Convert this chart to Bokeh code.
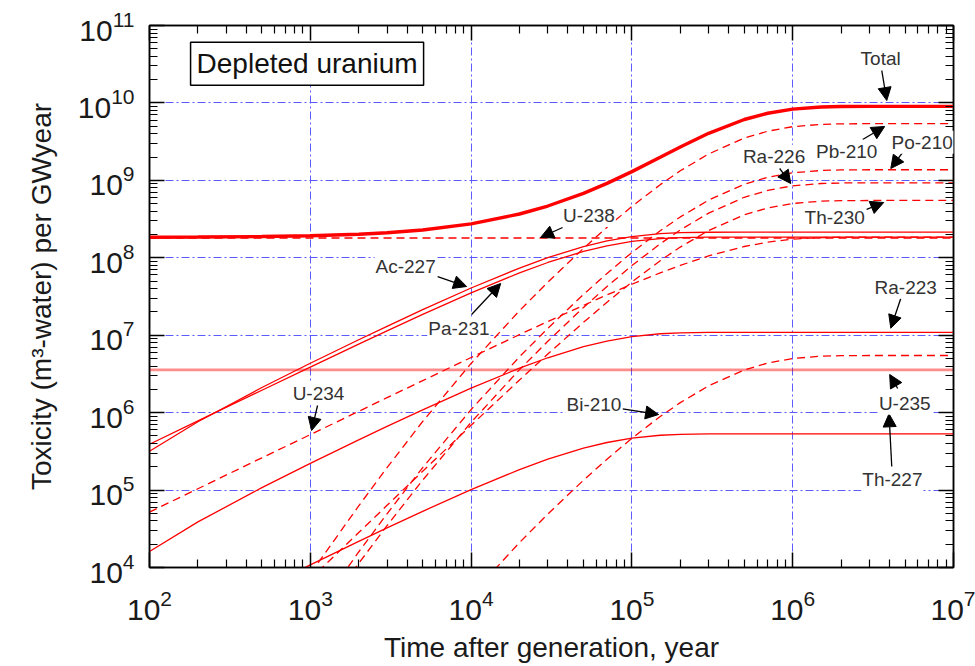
from bokeh.plotting import figure
from bokeh.models import (LogAxis, FixedTicker, Label, Arrow, NormalHead,
                          CustomJSTickFormatter, Range1d)
from bokeh.embed import file_html
from bokeh.resources import INLINE

FONT = "Liberation Sans"

# ---- data ----
years = [1e2, 2e2, 5e2, 1e3, 2e3, 3e3, 5e3, 1e4, 2e4, 3e4, 5e4, 7e4,
         1e5, 1.5e5, 2e5, 3e5, 5e5, 7e5, 1e6, 1.5e6, 2e6, 3e6, 5e6, 1e7]

total = [1.844e8, 1.853e8, 1.880e8, 1.926e8, 2.016e8, 2.106e8, 2.285e8, 2.737e8, 3.676e8, 4.662e8,
         6.794e8, 9.133e8, 1.296e9, 1.988e9, 2.702e9, 4.052e9, 6.106e9, 7.354e9, 8.312e9, 8.858e9,
         8.991e9, 9.032e9, 9.035e9, 9.035e9]
u238 = [1.8e8, 1.8e8, 1.8e8, 1.8e8, 1.8e8, 1.8e8, 1.8e8, 1.8e8, 1.8e8, 1.8e8, 1.8e8, 1.8e8,
        1.8e8, 1.8e8, 1.8e8, 1.8e8, 1.8e8, 1.8e8, 1.8e8, 1.8e8, 1.8e8, 1.8e8, 1.8e8, 1.8e8]
u234 = [5.2e4, 1.04e5, 2.61e5, 5.2e5, 1.04e6, 1.56e6, 2.59e6, 5.15e6, 1.02e7, 1.50e7,
        2.43e7, 3.317e7, 4.55e7, 6.387e7, 7.98e7, 1.057e8, 1.399e8, 1.594e8, 1.74e8, 1.823e8,
        1.843e8, 1.85e8, 1.85e8, 1.85e8]
th230 = [7.14e1, 2.85e2, 1.785e3, 7.11e3, 2.83e4, 6.35e4, 1.75e5, 6.86e5, 2.64e6, 5.71e6,
         1.467e7, 2.666e7, 4.87e7, 9.171e7, 1.375e8, 2.25e8, 3.59e8, 4.404e8, 5.03e8, 5.385e8,
         5.47e8, 5.498e8, 5.5e8, 5.5e8]
ra226 = [1.72, 13.65, 206.6, 1.564e3, 1.130e4, 3.467e4, 1.346e5, 7.50e5, 3.59e6, 8.36e6,
         2.282e7, 4.258e7, 7.93e7, 1.515e8, 2.289e8, 3.775e8, 6.05e8, 7.434e8, 8.50e8, 9.104e8,
         9.25e8, 9.297e8, 9.3e8, 9.3e8]
pb210 = [4.67, 51.4, 997.0, 8.27e3, 6.25e4, 1.949e5, 7.69e5, 4.32e6, 2.076e7, 4.84e7,
         1.324e8, 2.473e8, 4.61e8, 8.799e8, 1.329e9, 2.192e9, 3.513e9, 4.317e9, 4.934e9, 5.286e9,
         5.372e9, 5.398e9, 5.4e9, 5.4e9]
po210 = [1.18, 13.0, 253.0, 2.10e3, 1.586e4, 4.94e4, 1.951e5, 1.096e6, 5.27e6, 1.228e7,
         3.36e7, 6.273e7, 1.169e8, 2.232e8, 3.37e8, 5.56e8, 8.91e8, 1.095e9, 1.252e9, 1.341e9,
         1.363e9, 1.370e9, 1.37e9, 1.37e9]
bi210 = [4.7e-3, 5.2e-2, 1.01, 8.37, 63.3, 197.0, 779.0, 4.38e3, 2.103e4, 4.90e4,
         1.341e5, 2.505e5, 4.67e5, 8.91e5, 1.346e6, 2.22e6, 3.56e6, 4.373e6, 5.0e6, 5.355e6,
         5.44e6, 5.468e6, 5.47e6, 5.47e6]
pa231 = [3.91e5, 7.81e5, 1.947e6, 3.873e6, 7.665e6, 1.138e7, 1.857e7, 3.528e7, 6.384e7, 8.694e7,
         1.208e8, 1.429e8, 1.627e8, 1.773e8, 1.823e8, 1.847e8, 1.85e8, 1.85e8, 1.85e8, 1.85e8,
         1.85e8, 1.85e8, 1.85e8, 1.85e8]
ac227 = [3.167e5, 7.62e5, 2.111e6, 4.341e6, 8.731e6, 1.303e7, 2.136e7, 4.070e7, 7.375e7, 1.005e8,
         1.397e8, 1.653e8, 1.882e8, 2.050e8, 2.109e8, 2.136e8, 2.14e8, 2.14e8, 2.14e8, 2.14e8,
         2.14e8, 2.14e8, 2.14e8, 2.14e8]
ra223 = [1.612e4, 3.879e4, 1.075e5, 2.210e5, 4.444e5, 6.631e5, 1.087e6, 2.072e6, 3.754e6, 5.115e6,
         7.109e6, 8.414e6, 9.58e6, 1.044e7, 1.074e7, 1.087e7, 1.09e7, 1.09e7, 1.09e7, 1.09e7,
         1.09e7, 1.09e7, 1.09e7, 1.09e7]
th227 = [788.0, 1897.0, 5256.0, 1.081e4, 2.174e4, 3.244e4, 5.319e4, 1.013e5, 1.836e5, 2.502e5,
         3.478e5, 4.116e5, 4.686e5, 5.105e5, 5.251e5, 5.319e5, 5.33e5, 5.33e5, 5.33e5, 5.33e5,
         5.33e5, 5.33e5, 5.33e5, 5.33e5]
u235 = [3.57e6, 3.57e6, 3.57e6, 3.57e6, 3.57e6, 3.57e6, 3.57e6, 3.57e6, 3.57e6, 3.57e6, 3.57e6, 3.57e6,
        3.57e6, 3.57e6, 3.57e6, 3.57e6, 3.57e6, 3.57e6, 3.57e6, 3.57e6, 3.57e6, 3.57e6, 3.57e6, 3.57e6]

dashed_series = [u238, u234, th230, ra226, pb210, po210, bi210]
solid_series = [pa231, ac227, ra223, th227]

x_decades = [1e2, 1e3, 1e4, 1e5, 1e6, 1e7]
y_decades = [1e4, 1e5, 1e6, 1e7, 1e8, 1e9, 1e10, 1e11]

# annotation labels (log10 of year, log10 of toxicity)
label_text = ["Total", "Pb-210", "Po-210", "Ra-226", "Th-230", "U-238", "Ac-227",
              "Pa-231", "U-234", "Bi-210", "Ra-223", "U-235", "Th-227"]
label_lx = [6.547, 6.336, 6.805, 5.884, 6.261, 4.733, 3.593, 3.924, 3.051, 4.764, 6.703, 6.697, 6.620]
label_ly = [10.574, 9.377, 9.493, 9.312, 8.524, 8.546, 7.888, 7.083, 6.247, 6.101, 7.620, 6.122, 5.133]
arrow_lx0 = [6.554, 6.435, 6.684, 5.919, 6.460, 4.569, 3.792, 4.003, 3.045, 4.942, 6.672, 6.653, 6.616]
arrow_ly0 = [10.419, 9.528, 9.360, 9.153, 8.624, 8.391, 7.758, 7.268, 6.092, 6.050, 7.474, 6.312, 5.305]
arrow_lx1 = [6.585, 6.572, 6.610, 5.988, 6.566, 4.432, 3.972, 4.184, 3.008, 5.166, 6.610, 6.603, 6.599]
arrow_ly1 = [10.031, 9.696, 9.153, 8.959, 8.714, 8.262, 7.629, 7.668, 5.769, 5.976, 7.090, 6.493, 5.985]

box_text = "Depleted uranium"
box_lx, box_ly = 2.980, 10.505

# ---- figure ----
p = figure(width=975, height=666, x_axis_type="log", y_axis_type="log",
           x_range=Range1d(1e2, 1e7), y_range=Range1d(1e4, 1e11),
           output_backend="svg", toolbar_location=None,
           min_border_left=149, min_border_right=22, min_border_top=25, min_border_bottom=99)
p.background_fill_color = "white"
p.border_fill_color = "white"
p.outline_line_color = "black"
p.outline_line_width = 1.5

x_minor = [m * d for d in x_decades[:-1] for m in range(2, 10)]
y_minor = [m * d for d in y_decades[:-1] for m in range(2, 10)]
xt = FixedTicker(ticks=x_decades, minor_ticks=x_minor)
yt = FixedTicker(ticks=y_decades, minor_ticks=y_minor)


def style_axis(ax):
    ax.axis_line_color = "black"
    ax.axis_line_width = 1.5
    ax.major_tick_in = 15
    ax.major_tick_out = 0
    ax.minor_tick_in = 8
    ax.minor_tick_out = 0
    ax.major_tick_line_color = "black"
    ax.major_tick_line_width = 1.5
    ax.minor_tick_line_color = "black"
    ax.minor_tick_line_width = 1.2
    ax.major_label_text_font = FONT
    ax.major_label_text_font_size = "30px"
    ax.major_label_text_color = "#1a1a1a"
    ax.axis_label_text_font = FONT
    ax.axis_label_text_font_size = "28px"
    ax.axis_label_text_font_style = "normal"
    ax.axis_label_text_color = "#1a1a1a"


xa = p.below[0]
ya = p.left[0]
xa.ticker = xt
ya.ticker = yt
style_axis(xa)
style_axis(ya)
xa.axis_label = "Time after generation, year"
ya.axis_label = "Toxicity (m³-water) per GWyear"
xa.major_label_standoff = 22
ya.major_label_standoff = 15
xa.axis_label_standoff = 9
ya.axis_label_standoff = 18

blank = CustomJSTickFormatter(code="return ''")
top = LogAxis(ticker=xt, formatter=blank)
right = LogAxis(ticker=yt, formatter=blank)
style_axis(top)
style_axis(right)
top.major_label_text_font_size = "0px"
right.major_label_text_font_size = "0px"
p.add_layout(top, "above")
p.add_layout(right, "right")

p.xgrid.ticker = xt
p.ygrid.ticker = yt
for g in (p.xgrid, p.ygrid):
    g.grid_line_color = "#5c5cff"
    g.grid_line_dash = "8 3 2 3"
    g.grid_line_width = 1
    g.minor_grid_line_color = None

# ---- curves ----
p.line(years, u235, line_color="#ff0000", line_alpha=0.45, line_width=2.6)
for s in dashed_series:
    p.line(years, s, line_color="#ff0000", line_width=1.3, line_dash="8 5")
for s in solid_series:
    p.line(years, s, line_color="#ff0000", line_width=1.3)
p.line(years, total, line_color="#ff0000", line_width=3.4)

# ---- annotations ----
for i, t in enumerate(label_text):
    p.add_layout(Arrow(end=NormalHead(size=13, fill_color="black", line_color="black", line_width=1),
                       x_start=10 ** arrow_lx0[i], y_start=10 ** arrow_ly0[i],
                       x_end=10 ** arrow_lx1[i], y_end=10 ** arrow_ly1[i],
                       line_color="black", line_width=1.3))
for i, t in enumerate(label_text):
    p.add_layout(Label(x=10 ** label_lx[i], y=10 ** label_ly[i], text=t,
                       text_align="center", text_baseline="middle",
                       text_font=FONT, text_font_size="19px", text_color="#333333",
                       background_fill_color="white", padding=1))

p.add_layout(Label(x=10 ** box_lx, y=10 ** box_ly, text=box_text,
                   text_align="center", text_baseline="middle",
                   text_font=FONT, text_font_size="28px", text_color="#111111",
                   background_fill_color="white", border_line_color="black",
                   border_line_width=1.5, padding=6))

open("out.html", "w").write(file_html(p, INLINE))
